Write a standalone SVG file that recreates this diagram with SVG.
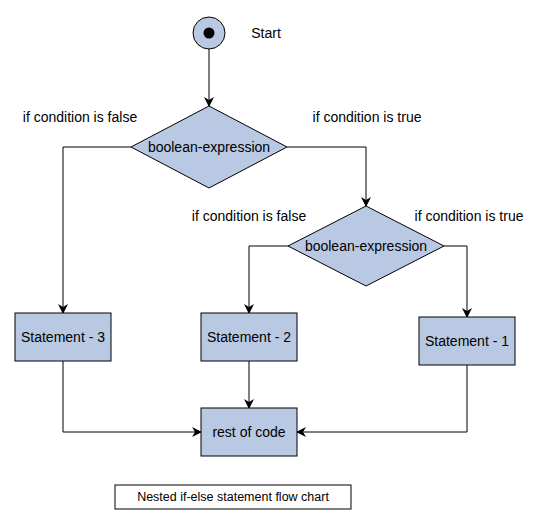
<svg xmlns="http://www.w3.org/2000/svg" width="540" height="525" viewBox="0 0 540 525">
<defs>
<style>
.n{fill:#b9c9e3;stroke:#000;stroke-width:1}
.t{font-family:"Liberation Sans",Arial,sans-serif;font-size:14px;fill:#000;text-anchor:middle;dominant-baseline:central}
.cap{font-size:12.5px}
.c{fill:none;stroke:#000;stroke-width:1}
</style>
<marker id="ah" viewBox="0 0 10 10" refX="9" refY="5" markerWidth="10" markerHeight="10" markerUnits="userSpaceOnUse" orient="auto">
<path d="M0,0 L10,5 L0,10 L3,5 Z" fill="#000"/>
</marker>
</defs>
<rect width="540" height="525" fill="#fff"/>
<g id="connectors">
<path class="c" d="M209,49 V106" marker-end="url(#ah)"/>
<path class="c" d="M287,147 H366 V206" marker-end="url(#ah)"/>
<path class="c" d="M131,147 H63 V313" marker-end="url(#ah)"/>
<path class="c" d="M288,246 H249 V313" marker-end="url(#ah)"/>
<path class="c" d="M444,246 H467 V317" marker-end="url(#ah)"/>
<path class="c" d="M249,361 V408" marker-end="url(#ah)"/>
<path class="c" d="M63,361 V432 H201" marker-end="url(#ah)"/>
<path class="c" d="M467,365 V432 H297" marker-end="url(#ah)"/>
</g>
<g id="start">
<circle class="n" cx="209" cy="33" r="16"/>
<circle cx="209" cy="33" r="5.5" fill="#000"/>
<text class="t" x="266" y="33">Start</text>
</g>
<g id="decision1">
<polygon class="n" points="209,106 287,147 209,188 131,147"/>
<text class="t" x="209" y="147">boolean-expression</text>
</g>
<g id="label-false-1"><text class="t" x="80" y="117">if condition is false</text></g>
<g id="label-true-1"><text class="t" x="367" y="117">if condition is true</text></g>
<g id="decision2">
<polygon class="n" points="366,206 444,246 366,286 288,246"/>
<text class="t" x="366" y="246">boolean-expression</text>
</g>
<g id="label-false-2"><text class="t" x="249" y="216">if condition is false</text></g>
<g id="label-true-2"><text class="t" x="469" y="216">if condition is true</text></g>
<g id="statement3">
<rect class="n" x="15" y="313" width="96" height="48"/>
<text class="t" x="63" y="337">Statement - 3</text>
</g>
<g id="statement2">
<rect class="n" x="201" y="313" width="96" height="48"/>
<text class="t" x="249" y="337">Statement - 2</text>
</g>
<g id="statement1">
<rect class="n" x="419" y="317" width="96" height="48"/>
<text class="t" x="467" y="341">Statement - 1</text>
</g>
<g id="rest">
<rect class="n" x="201" y="408" width="96" height="48"/>
<text class="t" x="249" y="432">rest of code</text>
</g>
<g id="caption">
<rect x="115" y="485" width="236" height="24" fill="#fff" stroke="#000"/>
<text class="t cap" x="233" y="497">Nested if-else statement flow chart</text>
</g>
</svg>
